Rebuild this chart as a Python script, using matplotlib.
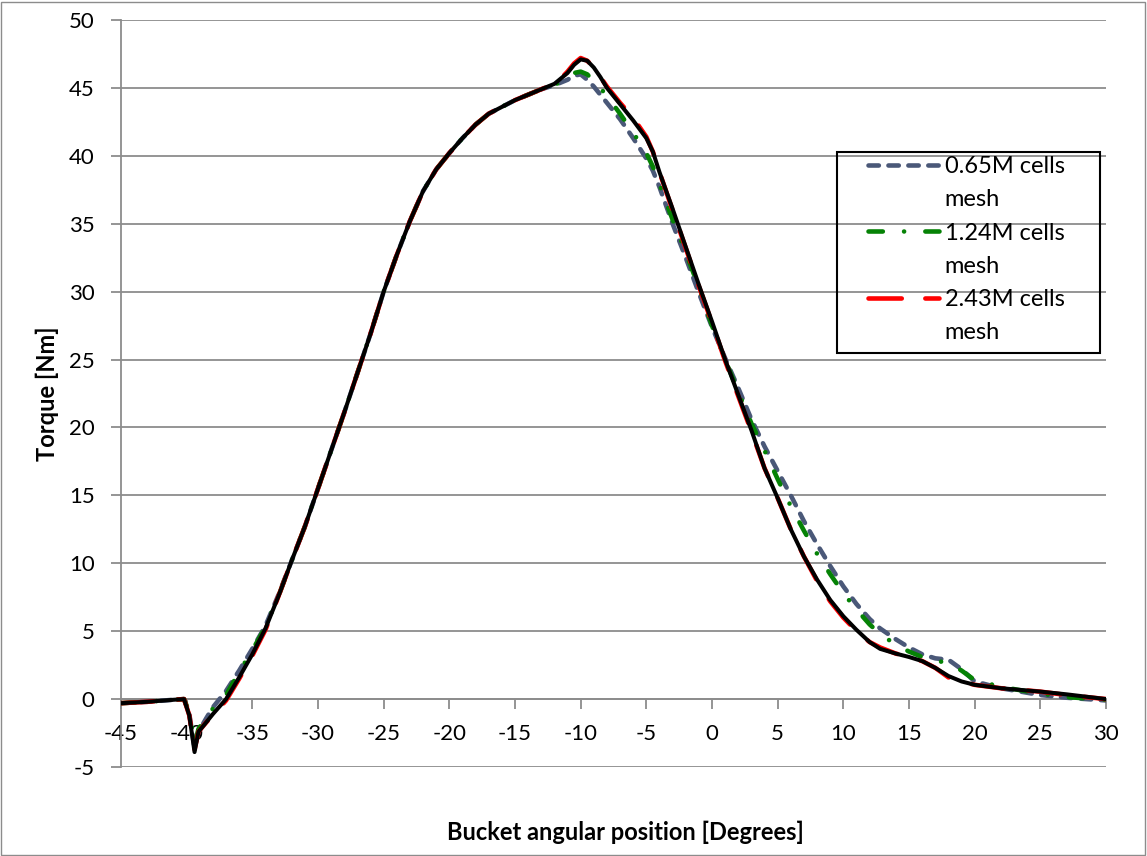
import matplotlib.pyplot as plt
from matplotlib.lines import Line2D

# positions in degrees, shared by all series
angle = [-45, -43, -41, -40.2, -39.8, -39.4, -39.1, -38.5, -38, -37, -36, -35, -34, -33, -32,
         -31, -30, -29, -28, -27, -26, -25, -24, -23, -22, -21, -20, -19, -18, -17, -16,
         -15, -14, -13, -12, -11.5, -11, -10.5, -10, -9.5, -9, -8.5, -8, -7, -6, -5, -4.5,
         -4, -3, -2, -1, 0, 1, 2, 3, 4, 5, 6, 7, 8, 9, 10, 11, 12, 12.8, 14, 15, 16, 17,
         18, 19, 20, 22, 25, 27, 30]

# torque values [Nm]
mesh_065 = [-0.3, -0.2, -0.05, 0.0, -1.1, -3.6, -2.4, -1.4, -0.6, 0.6, 2.1, 3.7, 5.4, 7.7, 10.2,
            12.7, 15.5, 18.3, 21.1, 24.0, 26.9, 30.0, 32.7, 35.2, 37.4, 39.0, 40.2, 41.3, 42.3, 43.1, 43.6,
            44.1, 44.5, 44.9, 45.2, 45.4, 45.6, 45.9, 46.0, 45.6, 45.1, 44.5, 43.9, 42.7, 41.3, 39.8, 38.9,
            37.7, 35.0, 32.5, 29.9, 27.4, 25.1, 22.9, 20.6, 18.6, 16.8, 15.0, 13.1, 11.4, 9.8, 8.3, 7.0, 5.9, 5.2, 4.4, 3.8, 3.3, 3.0,
            2.9, 2.2, 1.3, 0.8, 0.3, 0.1, -0.1]
mesh_124 = [-0.3, -0.2, -0.05, 0.0, -1.0, -3.3, -2.2, -1.3, -0.7, 0.3, 2.0, 3.6, 5.3, 7.6, 10.2,
            12.7, 15.5, 18.3, 21.1, 24.0, 26.9, 30.0, 32.7, 35.2, 37.4, 39.0, 40.2, 41.3, 42.3, 43.1, 43.6,
            44.1, 44.5, 44.9, 45.2, 45.5, 45.8, 46.1, 46.2, 46.0, 45.5, 45.0, 44.4, 43.1, 41.7, 40.2, 39.2,
            37.9, 35.3, 32.9, 30.3, 27.5, 25.0, 22.6, 20.3, 18.3, 16.2, 14.2, 12.4, 10.7, 9.2, 7.8, 6.6, 5.5, 4.8, 4.0, 3.5, 3.1, 2.8,
            2.7, 2.1, 1.4, 0.9, 0.4, 0.15, -0.05]
mesh_243 = [-0.3, -0.2, -0.05, 0.0, -1.2, -3.7, -2.4, -1.7, -1.2, -0.1, 1.5, 3.2, 5.1, 7.6, 10.2,
            12.7, 15.5, 18.3, 21.1, 24.0, 26.9, 30.0, 32.7, 35.2, 37.4, 39.0, 40.2, 41.3, 42.3, 43.1, 43.6,
            44.1, 44.5, 44.9, 45.3, 45.7, 46.2, 46.8, 47.2, 47.0, 46.5, 45.8, 45.1, 43.9, 42.8, 41.4, 40.3,
            38.8, 36.0, 33.2, 30.4, 27.7, 24.9, 22.3, 19.7, 17.0, 14.8, 12.5, 10.5, 8.7, 7.2, 6.0, 5.0, 4.2, 3.8, 3.35, 3.1, 2.8, 2.3,
            1.6, 1.3, 1.05, 0.8, 0.55, 0.3, 0.0]
black_ref = [-0.3, -0.2, -0.05, 0.0, -1.2, -3.9, -2.4, -1.7, -1.1, 0.0, 1.6, 3.3, 5.2, 7.6, 10.2,
             12.7, 15.5, 18.3, 21.1, 24.0, 26.9, 30.0, 32.7, 35.2, 37.4, 39.0, 40.2, 41.3, 42.3, 43.1, 43.6,
             44.1, 44.5, 44.9, 45.3, 45.7, 46.1, 46.7, 47.1, 47.0, 46.5, 45.8, 45.0, 43.8, 42.6, 41.3, 40.3,
             38.8, 36.1, 33.3, 30.5, 27.8, 25.0, 22.4, 19.8, 17.0, 14.8, 12.5, 10.5, 8.8, 7.3, 6.1, 5.1, 4.2, 3.7, 3.35, 3.1, 2.8, 2.3,
             1.7, 1.3, 1.05, 0.8, 0.55, 0.35, 0.0]

series_names = ['0.65M cells', '1.24M cells', '2.43M cells']
x_ticks = list(range(-45, 31, 5))
y_ticks = list(range(-5, 51, 5))

plt.rcParams['font.family'] = ['Lato', 'DejaVu Sans']
plt.rcParams['axes.unicode_minus'] = False

W, H = 1147, 856
fig = plt.figure(figsize=(W / 100, H / 100), dpi=100)
ax = fig.add_axes([121 / W, 1 - 767 / H, 985 / W, 747 / H])

grid_c = '#8c8c8c'
styles = [
    ('#4a5878', (0, (2.26, 2.09))),
    ('#058205', (0, (3.13, 4.63, 0.01, 4.63))),
    ('#ff0000', (0, (7.26, 5.14))),
]
handles = []
for vals, (col, ls), z in zip([mesh_065, mesh_124, mesh_243], styles, [3, 4, 5]):
    ln, = ax.plot(angle, vals, color=col, lw=3.3, ls=ls, dash_capstyle='round', zorder=z)
    handles.append(ln)
ax.plot(angle, black_ref, color='black', lw=2.9, zorder=6, solid_joinstyle='round')

ax.set_xlim(-45, 30)
ax.set_ylim(-5, 50)
ax.set_xticks(x_ticks)
ax.set_yticks(y_ticks)
ax.yaxis.grid(True, color=grid_c, lw=1.3)
ax.set_axisbelow(True)

for s in ['top', 'right']:
    ax.spines[s].set_visible(False)
ax.spines['bottom'].set_position(('data', 0))
for s in ['bottom', 'left']:
    ax.spines[s].set_color(grid_c)
    ax.spines[s].set_linewidth(1.3)
ax.tick_params(axis='both', colors=grid_c, labelcolor='black', labelsize=16,
               length=7, width=1.3, direction='out')
ax.tick_params(axis='x', pad=11)
ax.tick_params(axis='y', pad=12)

fig.text(47 / W, 1 - 394 / H, 'Torque [Nm]', rotation=90, ha='center', va='center',
         fontsize=17, fontweight='bold')
fig.text(625 / W, 1 - 832 / H, 'Bucket angular position [Degrees]',
         ha='center', va='center', fontsize=17, fontweight='bold')

# legend: one handle per series, second text line "mesh" without a handle
blank = Line2D([], [], color='none')
leg_handles, leg_labels = [], []
for h, name in zip(handles, series_names):
    leg_handles += [h, blank]
    leg_labels += [name, 'mesh']
leg = fig.legend(leg_handles, leg_labels, loc='upper left',
                 bbox_to_anchor=(868 / W, 1 - 156 / H), borderaxespad=0, borderpad=0,
                 fontsize=17, frameon=False, handlelength=3.0, handletextpad=0.25,
                 labelspacing=0.52)
fig.patches.append(plt.Rectangle((837 / W, 1 - 353 / H), 263 / W, 201 / H,
                                 transform=fig.transFigure, fill=False,
                                 edgecolor='black', lw=1.5, zorder=10))

fig.patches.append(plt.Rectangle((0.001, 0.001), 0.997, 0.997, transform=fig.transFigure,
                                 fill=False, edgecolor='#8c8c8c', lw=1.0))

fig.savefig('out.png', dpi=100)
